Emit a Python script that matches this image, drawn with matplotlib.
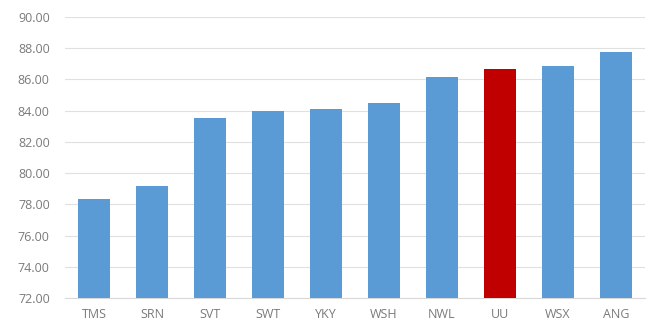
import matplotlib.pyplot as plt
from matplotlib.ticker import FormatStrFormatter

sites = ["TMS", "SRN", "SVT", "SWT", "YKY", "WSH", "NWL", "UU", "WSX", "ANG"]
scores = [78.34, 79.17, 83.53, 83.98, 84.11, 84.49, 86.16, 86.67, 86.86, 87.76]
highlight = "UU"

blue = "#5B9BD5"
red = "#C00000"
text_grey = "#7A7A7A"

plt.rcParams["font.family"] = ["Open Sans", "DejaVu Sans"]

fig = plt.figure(figsize=(6.5, 3.26), dpi=100)
ax = fig.add_axes([0.1, 0.086, 0.892, 0.862])

colors = [red if s == highlight else blue for s in sites]
ax.bar(range(len(sites)), scores, width=0.55, color=colors, zorder=3)

ax.set_xlim(-0.5, len(sites) - 0.5)
ax.set_ylim(72, 90)
ax.set_yticks(range(72, 91, 2))
ax.yaxis.set_major_formatter(FormatStrFormatter("%.2f"))
ax.set_xticks(range(len(sites)))
ax.set_xticklabels(sites)

ax.grid(axis="y", color="#E0E0E0", linewidth=0.8, zorder=0)
for side in ["top", "right", "left"]:
    ax.spines[side].set_visible(False)
ax.spines["bottom"].set_color("#D9D9D9")
ax.tick_params(axis="both", length=0, labelsize=9, colors=text_grey)
ax.tick_params(axis="y", pad=11)
ax.tick_params(axis="x", pad=7)

fig.savefig("out.png", dpi=100)
